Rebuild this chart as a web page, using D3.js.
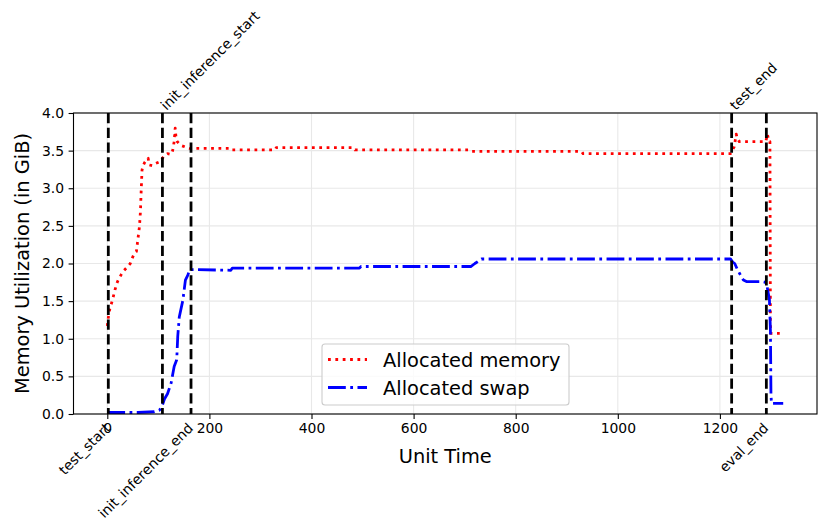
<!DOCTYPE html>
<html>
<head>
<meta charset="utf-8">
<script src="https://cdn.jsdelivr.net/npm/d3@7"></script>
<style>
html,body{margin:0;padding:0;background:#fff;}
svg{display:block;font-family:"DejaVu Sans",sans-serif;}
</style>
</head>
<body>
<svg id="chart" width="831" height="532"></svg>
<script>
// ---- data ----
const memX = [0, 2, 5, 10, 15, 20, 27, 33, 40, 45, 50, 54, 57, 59, 61, 63, 65, 66, 68, 70, 73, 77, 80, 82, 88, 95, 102, 108, 113, 118, 125, 128, 131, 133, 134, 135, 137, 144, 152, 161, 242, 244, 329, 331, 482, 485, 710, 714, 929, 932, 1221, 1224, 1228, 1232, 1234, 1238, 1290, 1293, 1296, 1298, 1299, 1324];
const memV = [1.17, 1.28, 1.40, 1.51, 1.65, 1.76, 1.85, 1.91, 1.96, 2.00, 2.09, 2.14, 2.16, 2.27, 2.38, 2.49, 2.70, 2.90, 3.24, 3.30, 3.34, 3.38, 3.40, 3.31, 3.30, 3.33, 3.35, 3.40, 3.44, 3.46, 3.45, 3.50, 3.62, 3.80, 3.72, 3.65, 3.62, 3.57, 3.55, 3.53, 3.53, 3.51, 3.51, 3.54, 3.54, 3.51, 3.51, 3.49, 3.49, 3.46, 3.46, 3.50, 3.55, 3.72, 3.66, 3.62, 3.62, 3.72, 3.62, 3.62, 1.07, 1.07];

const swapX = [0, 20, 60, 92, 102, 107, 112, 118, 125, 131, 136, 138, 141, 148, 153, 158, 161, 165, 242, 245, 494, 497, 712, 720, 733, 1221, 1225, 1229, 1235, 1240, 1246, 1252, 1282, 1289, 1292, 1294, 1297, 1299, 1300, 1301, 1303, 1324];
const swapV = [0.02, 0.02, 0.02, 0.03, 0.05, 0.10, 0.20, 0.27, 0.41, 0.63, 0.72, 1.03, 1.29, 1.51, 1.78, 1.85, 1.92, 1.92, 1.91, 1.94, 1.94, 1.96, 1.96, 2.00, 2.06, 2.06, 2.02, 2.00, 1.91, 1.85, 1.78, 1.76, 1.76, 1.75, 1.72, 1.63, 1.52, 1.10, 0.27, 0.14, 0.14, 0.14];

const eventNames = ["test_start", "init_inference_start", "init_inference_end", "test_end", "eval_end"];
const eventX = [2, 108, 164, 1223, 1291];
const eventTop = [false, true, false, true, false];

const xTicks = [0, 200, 400, 600, 800, 1000, 1200];
const yTicks = [0.0, 0.5, 1.0, 1.5, 2.0, 2.5, 3.0, 3.5, 4.0];
const seriesNames = ["Allocated memory", "Allocated swap"];

// ---- layout ----
const L = 73.5, R = 817, T = 113, B = 414;
const svg = d3.select("#chart");
const x = d3.scaleLinear().domain([-66.2, 1390.2]).range([L, R]);
const y = d3.scaleLinear().domain([0, 4]).range([B, T]);

// grid
const grid = svg.append("g");
grid.selectAll("line.gx").data(xTicks).join("line")
  .attr("x1", d => x(d)).attr("x2", d => x(d)).attr("y1", T).attr("y2", B)
  .attr("stroke", "#e8e8e8").attr("stroke-width", 1.1);
grid.selectAll("line.gy").data(yTicks).join("line")
  .attr("x1", L).attr("x2", R).attr("y1", d => y(d)).attr("y2", d => y(d))
  .attr("stroke", "#e8e8e8").attr("stroke-width", 1.1);

// axes
const xAxis = svg.append("g").attr("transform", `translate(0,${B})`)
  .call(d3.axisBottom(x).tickValues(xTicks).tickFormat(d3.format("d")).tickSize(4.9).tickPadding(4.5));
const yAxis = svg.append("g").attr("transform", `translate(${L},0)`)
  .call(d3.axisLeft(y).tickValues(yTicks).tickFormat(d3.format(".1f")).tickSize(4.9).tickPadding(4.5));
[xAxis, yAxis].forEach(a => {
  a.select(".domain").remove();
  a.selectAll(".tick line").attr("stroke", "#000").attr("stroke-width", 1.1);
  a.selectAll(".tick text").attr("fill", "#000").attr("font-size", "13.9px")
    .attr("font-family", "DejaVu Sans");
});

// data lines
const pts = (xs, vs) => xs.map((d, i) => [d, vs[i]]);
const line = d3.line().x(d => x(d[0])).y(d => y(d[1]));
svg.append("path").datum(pts(memX, memV)).attr("d", line)
  .attr("fill", "none").attr("stroke", "#ff0000").attr("stroke-width", 2.78)
  .attr("stroke-dasharray", "2.78,4.58").attr("stroke-linejoin", "round");
svg.append("path").datum(pts(swapX, swapV)).attr("d", line)
  .attr("fill", "none").attr("stroke", "#0000ff").attr("stroke-width", 2.78)
  .attr("stroke-dasharray", "17.8,4.45,2.78,4.45").attr("stroke-linejoin", "round");

// event lines
svg.append("g").selectAll("line").data(eventX).join("line")
  .attr("x1", d => x(d)).attr("x2", d => x(d)).attr("y1", T).attr("y2", B)
  .attr("stroke", "#000").attr("stroke-width", 2.78).attr("stroke-dasharray", "10.3,4.45");

// spines
svg.append("rect").attr("x", L).attr("y", T).attr("width", R - L).attr("height", B - T)
  .attr("fill", "none").attr("stroke", "#000").attr("stroke-width", 1.1);

// event labels
svg.append("g").selectAll("text").data(eventNames).join("text")
  .attr("transform", (d, i) => eventTop[i]
      ? `translate(${x(eventX[i]) + 4},${T - 2}) rotate(-45)`
      : `translate(${x(eventX[i]) + 3},${B + 15}) rotate(-45)`)
  .attr("text-anchor", (d, i) => eventTop[i] ? "start" : "end")
  .attr("font-size", "13.9px").attr("fill", "#000")
  .text(d => d);

// axis labels
svg.append("text").attr("x", (L + R) / 2).attr("y", 463).attr("text-anchor", "middle")
  .attr("font-size", "19.4px").text("Unit Time");
svg.append("text").attr("transform", `translate(29,${(T + B) / 2}) rotate(-90)`)
  .attr("text-anchor", "middle").attr("font-size", "19.4px").text("Memory Utilization (in GiB)");

// legend
const lg = svg.append("g");
lg.append("rect").attr("x", 322).attr("y", 344).attr("width", 247).attr("height", 61)
  .attr("rx", 3).attr("fill", "#fff").attr("fill-opacity", 0.8)
  .attr("stroke", "#cccccc").attr("stroke-width", 1.1);
const legStyles = [
  {stroke: "#ff0000", dash: "2.78,4.58"},
  {stroke: "#0000ff", dash: "17.8,4.45,2.78,4.45"}
];
seriesNames.forEach((name, i) => {
  const cy = 359.5 + i * 28;
  lg.append("line").attr("x1", 328).attr("x2", 367).attr("y1", cy).attr("y2", cy)
    .attr("stroke", legStyles[i].stroke).attr("stroke-width", 2.78)
    .attr("stroke-dasharray", legStyles[i].dash);
  lg.append("text").attr("x", 383).attr("y", cy + 7).attr("font-size", "19.4px")
    .attr("fill", "#000").text(name);
});
</script>
</body>
</html>
